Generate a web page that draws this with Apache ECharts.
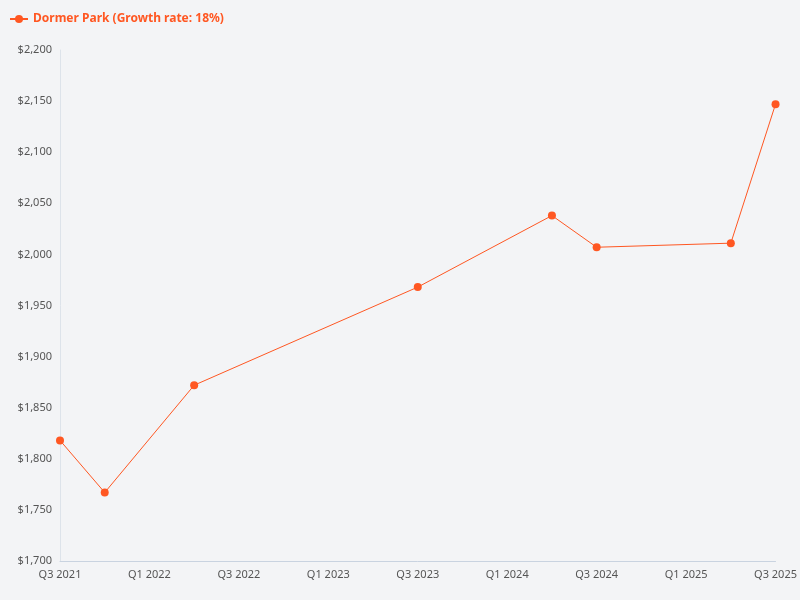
<!DOCTYPE html>
<html lang="en">
<head>
    <meta charset="UTF-8">
    <title></title>
    <script src="https://cdn.jsdelivr.net/npm/echarts@6/dist/echarts.min.js"></script>
    <style>
        html, body { margin: 0; padding: 0; background: #f3f4f6; }
        #chart { width: 800px; height: 600px; }
    </style>
</head>
<body>
<div id="chart"></div>
<script>
    var quarters = ['Q3 2021','Q4 2021','Q1 2022','Q2 2022','Q3 2022','Q4 2022','Q1 2023','Q2 2023',
                    'Q3 2023','Q4 2023','Q1 2024','Q2 2024','Q3 2024','Q4 2024','Q1 2025','Q2 2025','Q3 2025'];
    var rents = [1818, 1767, null, 1872, null, null, null, null,
                 1968, null, null, 2038, 2007, null, null, 2011, 2147];
    var seriesName = 'Dormer Park (Growth rate: 18%)';

    var chart = echarts.init(document.getElementById('chart'));
    chart.setOption({
        backgroundColor: '#f3f4f6',
        textStyle: { fontFamily: 'Noto Sans' },
        legend: {
            left: 4, top: 8,
            itemWidth: 18, itemHeight: 10,
            textStyle: { color: '#ff5722', fontWeight: 'bold', fontSize: 12 },
            data: [seriesName]
        },
        grid: { left: 60, right: 23, top: 50, bottom: 39 },
        xAxis: {
            type: 'category',
            boundaryGap: false,
            data: quarters,
            axisLine: { lineStyle: { color: '#c9d3e0' } },
            axisTick: { show: false },
            axisLabel: { color: '#555', fontSize: 11, interval: 1 }
        },
        yAxis: {
            type: 'value',
            min: 1700, max: 2200, interval: 50,
            axisLine: { show: true, lineStyle: { color: '#dde3ea' } },
            splitLine: { show: false },
            axisLabel: {
                color: '#555', fontSize: 11,
                formatter: function (v) { return '$' + v.toLocaleString('en-US'); }
            }
        },
        series: [{
            name: seriesName,
            type: 'line',
            data: rents,
            connectNulls: true,
            color: '#ff5722',
            symbol: 'circle',
            symbolSize: 8,
            lineStyle: { width: 1 }
        }]
    });
</script>
</body>
</html>
